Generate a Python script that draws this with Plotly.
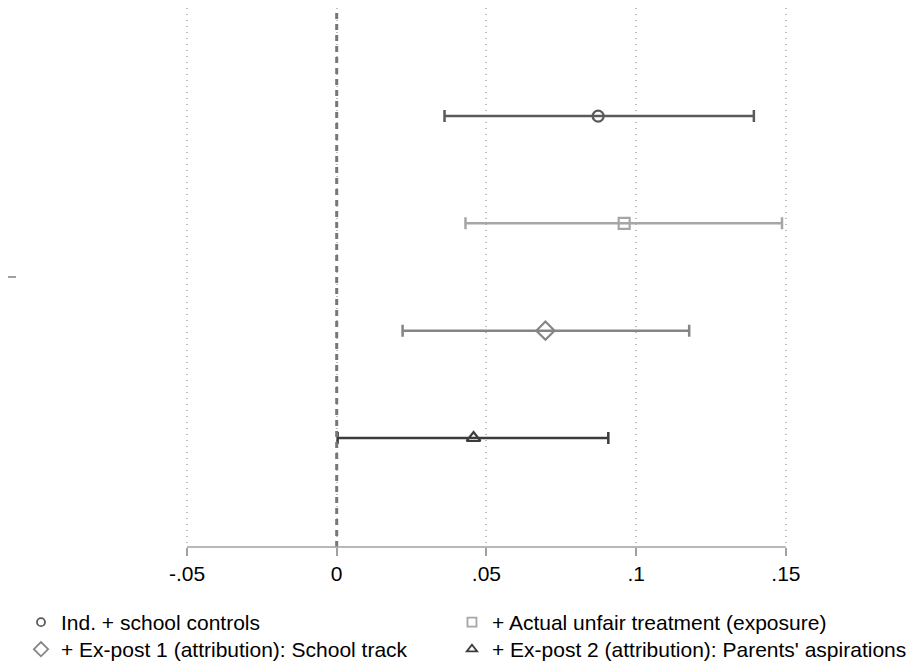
import plotly.graph_objects as go

# Data
labels = ["Ind. + school controls",
          "+ Actual unfair treatment (exposure)",
          "+ Ex-post 1 (attribution): School track",
          "+ Ex-post 2 (attribution): Parents' aspirations"]
coef = [0.0873, 0.0960, 0.0697, 0.0457]
ci_lo = [0.0360, 0.0430, 0.0220, 0.0003]
ci_hi = [0.1393, 0.1487, 0.1177, 0.0907]
xtick_vals = [-0.05, 0, 0.05, 0.1, 0.15]
xtick_text = ["-.05", "0", ".05", ".1", ".15"]

symbols = ["circle-open", "square-open", "diamond-open", "triangle-up-open"]
colors = ["#5a5a5a", "#a6a6a6", "#858585", "#3c3c3c"]
msizes = [11, 11, 14, 12]
leg_sizes = [8, 9, 11, 9]
# legend placement (container coords): column x, row y
leg_x = [0.0143, 0.4884, 0.0143, 0.4884]
leg_y = [0.1000, 0.1000, 0.0591, 0.0591]
leg_names = ["legend", "legend2", "legend3", "legend4"]

n = len(coef)
fig = go.Figure()
for i in range(n):
    ypos = (n - 1) / 2 - i
    fig.add_trace(go.Scatter(
        x=[coef[i]], y=[ypos], mode="markers", showlegend=False,
        marker=dict(symbol=symbols[i], size=msizes[i], color=colors[i],
                    line=dict(width=2.2, color=colors[i])),
        error_x=dict(type="data", symmetric=False,
                     array=[ci_hi[i] - coef[i]], arrayminus=[coef[i] - ci_lo[i]],
                     color=colors[i], thickness=2.5, width=6),
    ))
for i in range(n):
    fig.add_trace(go.Scatter(
        x=[None], y=[None], mode="markers", name=labels[i], legend=leg_names[i],
        marker=dict(symbol=symbols[i], size=leg_sizes[i], color=colors[i],
                    line=dict(width=1.8, color=colors[i])),
    ))

# zero reference line and x axis line
fig.add_shape(type="line", x0=0, x1=0, y0=0, y1=1, xref="x", yref="y domain",
              line=dict(color="#777777", width=3, dash="6px,5px"))
fig.add_shape(type="line", x0=-0.05, x1=0.15, y0=0, y1=0, xref="x", yref="y domain",
              line=dict(color="#a0a0a0", width=1.5))

legend_layout = {}
for i, name in enumerate(leg_names):
    legend_layout[name] = dict(x=leg_x[i], y=leg_y[i], xref="container", yref="container",
                               xanchor="left", yanchor="top", font=dict(size=21),
                               bgcolor="rgba(0,0,0,0)", itemsizing="trace")

fig.update_layout(
    width=909, height=660,
    margin=dict(l=9, r=17, t=0, b=121, autoexpand=False),
    plot_bgcolor="white", paper_bgcolor="white",
    font=dict(family="Liberation Sans, Arial, sans-serif", size=21, color="black"),
    xaxis=dict(range=[-0.10676, 0.1881], tickvals=xtick_vals, ticktext=xtick_text,
               showgrid=True, gridcolor="#bdbdbd", griddash="1px,5px", gridwidth=1.5,
               zeroline=False, showline=False, ticks="outside", ticklen=8,
               tickwidth=1.5, tickcolor="#a0a0a0", tickfont=dict(size=21)),
    yaxis=dict(range=[-2.516, 2.507], tickvals=[0], ticktext=[""],
               showgrid=False, zeroline=False, showline=False, ticks="outside",
               ticklen=12, tickwidth=1.5, tickcolor="#a0a0a0"),
    **legend_layout,
)
fig.write_html("out.html")
